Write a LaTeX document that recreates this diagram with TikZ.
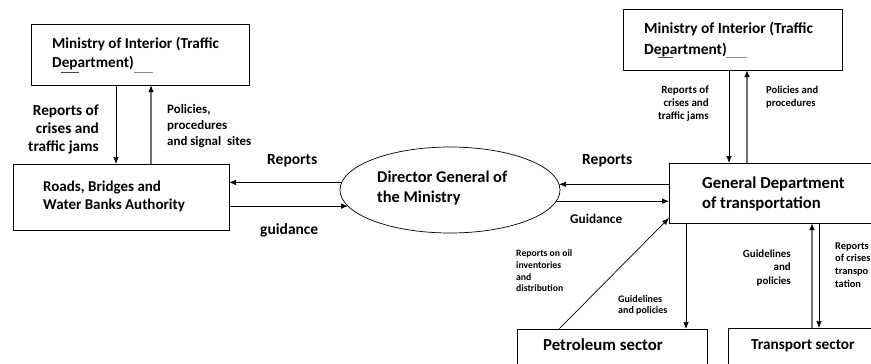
\documentclass[tikz,border=0pt]{standalone}
\usepackage{fontspec}
\setmainfont{Carlito}
\usetikzlibrary{shapes.geometric,arrows.meta,calc}
\newcommand{\fsz}[2]{\fontsize{#1}{#2}\selectfont\bfseries}
\begin{document}
\begin{tikzpicture}[x=1pt,y=-1pt,
  box/.style={draw,line width=0.8pt,inner sep=0pt,outer sep=0pt},
  arr/.style={line width=0.7pt,-{Latex[length=7pt,width=5.5pt]}},
  garr/.style={draw=black!55,line width=1.3pt,-{Latex[length=7pt,width=5.5pt,color=black]}},
  txt/.style={inner sep=0pt,anchor=west,align=left},
  rtxt/.style={inner sep=0pt,anchor=east,align=right},
  tick/.style={line width=0.6pt,draw=black!70}]
\useasboundingbox (0,0) rectangle (871,364);
\clip (0,0) rectangle (871,364);
\fill[white] (0,0) rectangle (871,364);
% boxes
\node[box,minimum width=218pt,minimum height=61pt] (mi1) at (140,54.5) {};
\node[box,minimum width=216pt,minimum height=66pt] (rb) at (121,197) {};
\node[box,ellipse,minimum width=220pt,minimum height=86pt,line width=0.7pt] (dg) at (450,190) {};
\node[box,minimum width=219pt,minimum height=61pt] (mi2) at (732.5,39.5) {};
\node[box,minimum width=231pt,minimum height=60pt] (gd) at (784.5,193) {};
\node[box,minimum width=190pt,minimum height=51pt] (pet) at (612,354.5) {};
\node[box,minimum width=172pt,minimum height=52pt] (ts) at (814,354) {};
% box texts
\node[txt,font=\fsz{15.2}{19}] (t1) at (52,53.5) {Ministry of Interior (Traffic\\Department)};
\node[txt,font=\fsz{15}{18.5}] (t2) at (43,196.5) {Roads, Bridges and\\Water Banks Authority};
\node[txt,font=\fsz{16.4}{20}] (t3) at (377,188) {Director General of\\the Ministry};
\node[txt,font=\fsz{15.4}{21}] (t4) at (644,39.5) {Ministry of Interior (Traffic\\Department)};
\node[txt,font=\fsz{16.7}{20}] (t5) at (702,193.5) {General Department\\of transportation};
\node[txt,font=\fsz{16.8}{20}] (t6) at (543,345) {Petroleum sector};
\node[txt,font=\fsz{15.3}{19}] (t7) at (751,345.5) {Transport sector};
% small ticks
\draw[tick] (61,72) -- (79,72);
\draw[tick,draw=black!45] (134,72) -- (153,72);
\draw[tick] (658,57) -- (673,57);
\draw[tick,draw=black!45] (726,57) -- (747,57);
% column coordinates
\coordinate (xa) at (116,0);
\coordinate (xb) at (151,0);
\coordinate (xc) at (729,0);
\coordinate (xd) at (747,0);
\coordinate (xe) at (559,0);
\coordinate (xf) at (686,0);
\coordinate (xg) at (812,0);
\coordinate (xh) at (819,0);
\coordinate (yd) at (0,218);
% connectors
\draw[arr] (mi1.south -| xa) -- (rb.north -| xa);
\draw[garr] (rb.north -| xb) -- (mi1.south -| xb);
\draw[arr] (dg.176.3) -- (rb.east |- dg.176.3);
\draw[arr] (rb.east |- dg.189.55) -- (dg.189.55);
\draw[arr] (gd.west |- dg.3.7) -- (dg.3.7);
\draw[arr] (dg.-6.5) -- (gd.west |- dg.-6.5);
\draw[arr] (mi2.south -| xc) -- (gd.north -| xc);
\draw[garr] (gd.north -| xd) -- (mi2.south -| xd);
\draw[arr] (pet.north -| xe) -- (gd.west |- yd);
\draw[arr] (gd.south -| xf) -- (pet.north -| xf);
\draw[garr] (ts.north -| xg) -- (gd.south -| xg);
\draw[arr] (gd.south -| xh) -- (ts.north -| xh);
% labels
\node[rtxt,font=\fsz{15.3}{18}] (l1) at (99,129.5) {Reports of\\crises and\\traffic jams};
\node[txt,font=\fsz{12.9}{16}] (l2) at (167,126.5) {Policies,\\procedures\\and signal\ \ sites};
\node[txt,font=\fsz{15.5}{18}] (l3) at (267,161) {Reports};
\node[txt,font=\fsz{15.5}{18}] (l4) at (260,230) {guidance};
\node[txt,font=\fsz{15.5}{18}] (l5) at (582,161) {Reports};
\node[txt,font=\fsz{13.3}{16}] (l6) at (570,219) {Guidance};
\node[rtxt,font=\fsz{11}{13}] (l7) at (709,103.5) {Reports of\\crises and\\traffic jams};
\node[txt,font=\fsz{10.6}{12.5}] (l8) at (766,97) {Policies and\\procedures};
\node[txt,font=\fsz{9.7}{11.7}] (l9) at (516,271) {Reports on oil\\inventories\\and\\distribution};
\node[txt,font=\fsz{10}{10.8}] (l10) at (618,305.5) {Guidelines\\and policies};
\node[rtxt,font=\fsz{10.9}{13.5}] (l11) at (791,268) {Guidelines\\and\\policies};
\node[txt,font=\fsz{10.4}{12.8}] (l12) at (835,265) {Reports\\of crises\\transpo\\tation};
\end{tikzpicture}
\end{document}
